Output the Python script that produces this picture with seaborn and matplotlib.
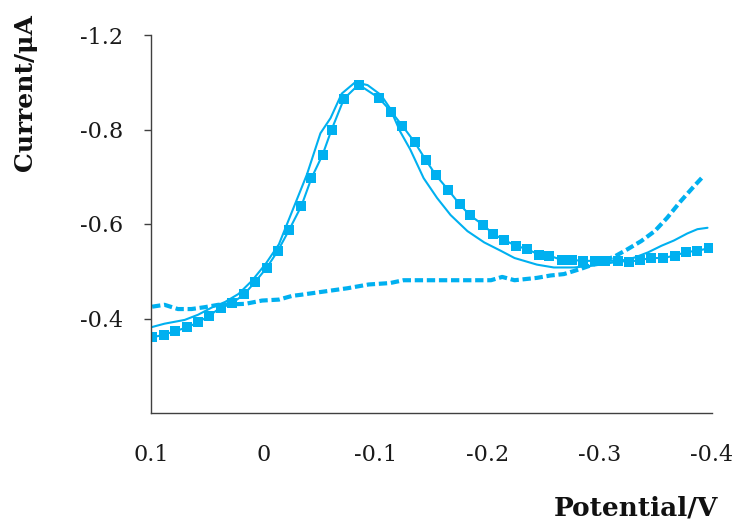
import matplotlib
matplotlib.use("Agg")
import matplotlib.pyplot as plt
import seaborn as sns
import pandas as pd

# square-marker scan
pot_sq = [0.099, 0.088, 0.079, 0.068, 0.058, 0.048, 0.038, 0.028, 0.017, 0.007,
          -0.003, -0.013, -0.023, -0.034, -0.043, -0.053, -0.061, -0.072, -0.085,
          -0.103, -0.114, -0.124, -0.135, -0.145, -0.154, -0.165, -0.175, -0.184,
          -0.196, -0.205, -0.215, -0.225, -0.235, -0.246, -0.255, -0.266, -0.275,
          -0.285, -0.296, -0.305, -0.316, -0.326, -0.336, -0.346, -0.356, -0.367,
          -0.377, -0.387, -0.397]
cur_sq = [-0.360, -0.366, -0.373, -0.381, -0.392, -0.406, -0.423, -0.432, -0.451, -0.478,
          -0.507, -0.543, -0.587, -0.638, -0.697, -0.747, -0.800, -0.865, -0.895,
          -0.867, -0.838, -0.808, -0.773, -0.735, -0.703, -0.672, -0.642, -0.619,
          -0.598, -0.579, -0.566, -0.554, -0.547, -0.535, -0.533, -0.524, -0.524,
          -0.522, -0.522, -0.522, -0.522, -0.520, -0.524, -0.528, -0.528, -0.533,
          -0.541, -0.543, -0.549]

# plain solid scan
pot_solid = [0.099, 0.088, 0.079, 0.070, 0.058, 0.046, 0.034, 0.022, 0.010, -0.002,
             -0.014, -0.027, -0.039, -0.051, -0.060, -0.070, -0.082, -0.093, -0.105,
             -0.113, -0.122, -0.131, -0.143, -0.155, -0.167, -0.182, -0.197, -0.212,
             -0.224, -0.244, -0.259, -0.277, -0.295, -0.313, -0.331, -0.343, -0.355,
             -0.366, -0.378, -0.387, -0.396]
cur_solid = [-0.382, -0.389, -0.393, -0.397, -0.408, -0.423, -0.435, -0.452, -0.480, -0.515,
             -0.557, -0.634, -0.705, -0.792, -0.824, -0.876, -0.900, -0.894, -0.873,
             -0.845, -0.796, -0.758, -0.697, -0.655, -0.619, -0.585, -0.561, -0.543,
             -0.528, -0.514, -0.508, -0.508, -0.512, -0.519, -0.529, -0.540, -0.554,
             -0.565, -0.580, -0.589, -0.592]

# dotted (blank) scan
pot_dot = [0.099, 0.088, 0.076, 0.064, 0.052, 0.040, 0.016, 0.001, -0.014, -0.026,
           -0.033, -0.054, -0.075, -0.094, -0.113, -0.125, -0.149, -0.185, -0.203,
           -0.213, -0.224, -0.244, -0.256, -0.268, -0.283, -0.295, -0.313, -0.325,
           -0.337, -0.349, -0.360, -0.372, -0.384, -0.393]
cur_dot = [-0.425, -0.429, -0.420, -0.420, -0.424, -0.429, -0.431, -0.438, -0.440, -0.448,
           -0.450, -0.457, -0.464, -0.472, -0.475, -0.481, -0.481, -0.481, -0.481,
           -0.488, -0.481, -0.486, -0.491, -0.494, -0.505, -0.515, -0.531, -0.547,
           -0.564, -0.585, -0.613, -0.648, -0.680, -0.703]

x_ticks = [0.1, 0, -0.1, -0.2, -0.3, -0.4]
x_labels = ["0.1", "0", "-0.1", "-0.2", "-0.3", "-0.4"]
y_ticks = [-1.0, -0.8, -0.6, -0.4]
y_labels = ["-1.2", "-0.8", "-0.6", "-0.4"]

BLUE = "#00B0F0"
AXIS = "#404040"

sns.set_theme(style="white")
plt.rcParams["font.family"] = ["DejaVu Serif", "DejaVu Sans"]

fig = plt.figure(figsize=(7.4, 5.21), dpi=100)
ax = fig.add_axes([151 / 740, 108 / 521, 561 / 740, 378 / 521])

df_dot = pd.DataFrame({"pot": pot_dot, "cur": cur_dot})
df_solid = pd.DataFrame({"pot": pot_solid, "cur": cur_solid})
df_sq = pd.DataFrame({"pot": pot_sq, "cur": cur_sq})

sns.lineplot(data=df_dot, x="pot", y="cur", ax=ax, color=BLUE, lw=3,
             linestyle=(0, (2.0, 0.9)), dash_capstyle="butt", sort=False)
sns.lineplot(data=df_solid, x="pot", y="cur", ax=ax, color=BLUE, lw=1.5, sort=False)
sns.lineplot(data=df_sq, x="pot", y="cur", ax=ax, color=BLUE, lw=1.5, sort=False,
             marker="s", markersize=6.5, markeredgewidth=0)

ax.set_xlim(0.1, -0.4)
ax.set_ylim(-0.2, -0.996)

ax.set_xticks(x_ticks)
ax.set_xticklabels(x_labels)
ax.set_yticks(y_ticks)
ax.set_yticklabels(y_labels)

for side in ["top", "right"]:
    ax.spines[side].set_visible(False)
for side in ["left", "bottom"]:
    ax.spines[side].set_color(AXIS)
    ax.spines[side].set_linewidth(1.0)

ax.tick_params(axis="x", direction="in", length=5, width=1, color=AXIS,
               labelsize=16, pad=22, labelcolor="#1a1a1a")
ax.tick_params(axis="y", direction="out", length=5, width=1, color=AXIS,
               labelsize=16, pad=15, labelcolor="#1a1a1a", left=True)

ax.set_xlabel("")
ax.set_ylabel("")
fig.text(718 / 740, 1 - 508 / 521, "Potential/V", ha="right", va="center",
         fontsize=19, fontweight="bold", color="#111111")
fig.text(25 / 740, 1 - 93 / 521, "Current/μA", ha="center", va="center",
         rotation=90, fontsize=18, fontweight="bold", color="#111111")

fig.savefig("out.png", dpi=100)
